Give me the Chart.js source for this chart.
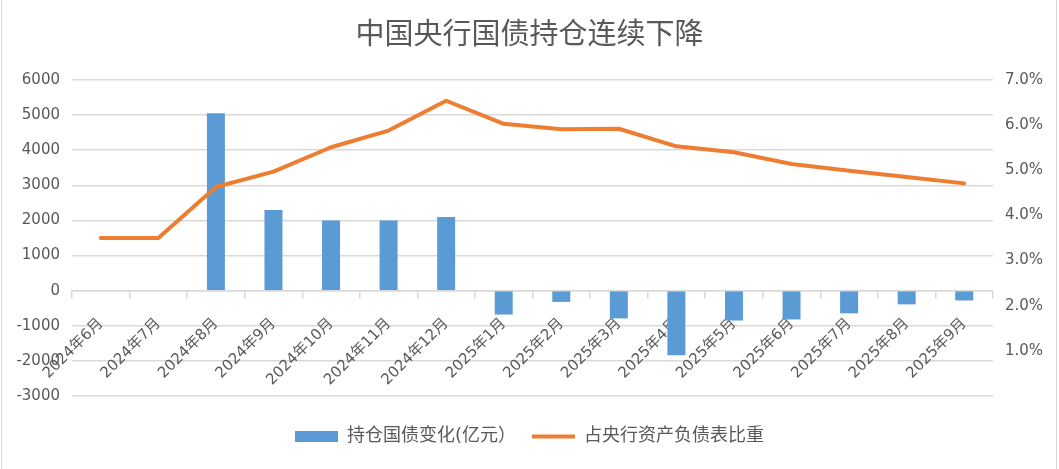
<!DOCTYPE html>
<html>
<head>
<meta charset="utf-8">
<script src="https://cdn.jsdelivr.net/npm/chart.js@4/dist/chart.umd.min.js"></script>
<style>
  html, body { margin: 0; padding: 0; background: #ffffff; }
  #wrap { position: relative; width: 1059px; height: 469px; }
  #c { position: absolute; left: 0; top: 0; }
  .edge { position: absolute; top: 0; width: 1px; height: 469px; background: #d9d9d9; }
</style>
</head>
<body>
<div id="wrap">
  <canvas id="c" width="1059" height="469"></canvas>
  <div class="edge" style="left:1px"></div>
  <div class="edge" style="left:1056px"></div>
</div>
<script>
const titleText = '中国央行国债持仓连续下降';
const categories = ['2024年6月','2024年7月','2024年8月','2024年9月','2024年10月','2024年11月','2024年12月',
  '2025年1月','2025年2月','2025年3月','2025年4月','2025年5月','2025年6月','2025年7月','2025年8月','2025年9月'];
const holdingChange = [0, 0, 5050, 2300, 2000, 2000, 2100, -680, -320, -790, -1840, -850, -820, -645, -390, -280];
const shareOfAssets = [3.5, 3.5, 4.63, 4.97, 5.51, 5.88, 6.54, 6.03, 5.91, 5.92, 5.53, 5.40, 5.14, 4.99, 4.85, 4.71];
const barName = '持仓国债变化(亿元）';
const lineName = '占央行资产负债表比重';
const leftTicks = { min: -3000, max: 6000, step: 1000 };
const rightTicks = { min: 0, max: 7, step: 1 };

const TXT = '#595959';
const GRID = '#d9d9d9';
const BLUE = '#5b9bd5';
const ORANGE = '#ed7d31';
const tickFont = { family: "'DejaVu Sans', 'Noto Sans CJK SC', sans-serif", size: 15 };

new Chart(document.getElementById('c'), {
  data: {
    labels: categories,
    datasets: [
      {
        type: 'line', label: lineName, data: shareOfAssets, yAxisID: 'y1', xAxisID: 'x',
        borderColor: ORANGE, backgroundColor: ORANGE, borderWidth: 4,
        pointRadius: 0, pointHoverRadius: 0, tension: 0,
        borderCapStyle: 'round', borderJoinStyle: 'round', order: 0
      },
      {
        type: 'bar', label: barName, data: holdingChange, yAxisID: 'y', xAxisID: 'x',
        backgroundColor: BLUE, borderWidth: 0,
        barPercentage: 0.3125, categoryPercentage: 1.0, order: 1
      }
    ]
  },
  options: {
    responsive: false,
    animation: false,
    layout: { padding: { left: 0, right: 0, top: 0, bottom: 13.5 } },
    plugins: {
      tooltip: { enabled: false },
      title: {
        display: true, text: titleText, color: TXT,
        font: { family: "'Noto Sans CJK SC', sans-serif", size: 29, weight: 'normal' },
        padding: { top: 15.6, bottom: 29.6 }
      },
      legend: {
        position: 'bottom',
        labels: {
          usePointStyle: true, pointStyleWidth: 43, boxHeight: 11, padding: 16,
          color: TXT,
          font: { family: "'DejaVu Sans', 'Noto Sans CJK SC', sans-serif", size: 18 },
          generateLabels: () => [
            { text: barName, fillStyle: BLUE, strokeStyle: BLUE, lineWidth: 0, pointStyle: 'rect', datasetIndex: 1, fontColor: TXT },
            { text: lineName, fillStyle: ORANGE, strokeStyle: ORANGE, lineWidth: 4, pointStyle: 'line', datasetIndex: 0, fontColor: TXT }
          ]
        }
      }
    },
    scales: {
      x: {
        type: 'category',
        position: { y: 0 },
        z: 1,
        offset: true,
        grid: { display: true, drawOnChartArea: false, drawTicks: true, tickLength: 7, color: GRID, lineWidth: 1.5, offset: true },
        border: { display: true, color: GRID, width: 1.5 },
        ticks: { color: TXT, font: tickFont, maxRotation: 45, minRotation: 45, autoSkip: false, padding: 17 }
      },
      xspace: {
        type: 'category',
        position: 'bottom',
        display: true,
        grid: { display: false, drawTicks: false },
        border: { display: false },
        ticks: { display: false },
        afterFit: (s) => { s.height = 15.5; }
      },
      y: {
        type: 'linear', position: 'left',
        min: leftTicks.min, max: leftTicks.max,
        grid: { color: GRID, lineWidth: 1.5, drawTicks: false },
        border: { display: false },
        ticks: { stepSize: leftTicks.step, color: TXT, font: tickFont, padding: 12, callback: (v) => String(v) },
        afterFit: (s) => { s.width = 72; }
      },
      y1: {
        type: 'linear', position: 'right',
        min: rightTicks.min, max: rightTicks.max,
        grid: { display: false, drawOnChartArea: false, drawTicks: false },
        border: { display: false },
        ticks: {
          stepSize: rightTicks.step, color: TXT, font: tickFont, padding: 12,
          callback: (v) => v === 0 ? '' : v.toFixed(1) + '%'
        },
        afterFit: (s) => { s.width = 66; }
      }
    }
  }
});
</script>
</body>
</html>
